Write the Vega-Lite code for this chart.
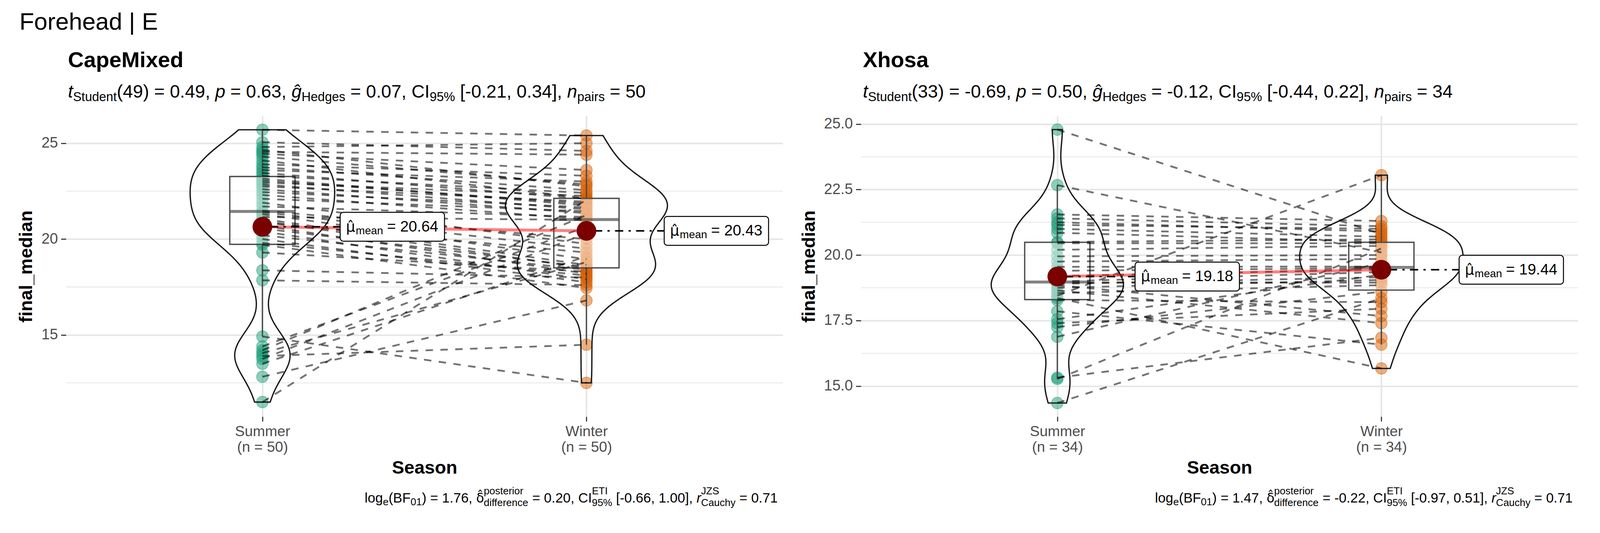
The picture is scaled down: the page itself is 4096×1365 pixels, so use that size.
{
"$schema":"https://vega.github.io/schema/vega-lite/v6.json",
"background":"white",
"padding":{"left":43,"top":26,"right":5,"bottom":5},
"title":{"text":"Forehead | E","anchor":"start","fontSize":61.5,"fontWeight":"normal","font":"Liberation Sans","color":"black","offset":39,"dx":6},
"config":{"font":"Liberation Sans","view":{"stroke":null},"text":{"color":"black"}},
"spacing":42,
"datasets":{
"cm":[
{"id":1,"Season":"Summer","final_median":11.5},{"id":1,"Season":"Winter","final_median":22.05},
{"id":2,"Season":"Summer","final_median":12.82},{"id":2,"Season":"Winter","final_median":16.8},
{"id":3,"Season":"Summer","final_median":13.5},{"id":3,"Season":"Winter","final_median":19.1},
{"id":4,"Season":"Summer","final_median":13.75},{"id":4,"Season":"Winter","final_median":20.3},
{"id":5,"Season":"Summer","final_median":13.9},{"id":5,"Season":"Winter","final_median":14.49},
{"id":6,"Season":"Summer","final_median":14.05},{"id":6,"Season":"Winter","final_median":18.8},
{"id":7,"Season":"Summer","final_median":14.2},{"id":7,"Season":"Winter","final_median":21.25},
{"id":8,"Season":"Summer","final_median":14.4},{"id":8,"Season":"Winter","final_median":20.65},
{"id":9,"Season":"Summer","final_median":14.92},{"id":9,"Season":"Winter","final_median":12.5},
{"id":10,"Season":"Summer","final_median":17.85},{"id":10,"Season":"Winter","final_median":17.6},
{"id":11,"Season":"Summer","final_median":18.37},{"id":11,"Season":"Winter","final_median":18.0},
{"id":12,"Season":"Summer","final_median":19.3},{"id":12,"Season":"Winter","final_median":18.3},
{"id":13,"Season":"Summer","final_median":19.7},{"id":13,"Season":"Winter","final_median":17.45},
{"id":14,"Season":"Summer","final_median":19.8},{"id":14,"Season":"Winter","final_median":18.1},
{"id":15,"Season":"Summer","final_median":20.0},{"id":15,"Season":"Winter","final_median":17.75},
{"id":16,"Season":"Summer","final_median":20.2},{"id":16,"Season":"Winter","final_median":18.4},
{"id":17,"Season":"Summer","final_median":20.4},{"id":17,"Season":"Winter","final_median":17.9},
{"id":18,"Season":"Summer","final_median":20.55},{"id":18,"Season":"Winter","final_median":18.55},
{"id":19,"Season":"Summer","final_median":20.7},{"id":19,"Season":"Winter","final_median":18.2},
{"id":20,"Season":"Summer","final_median":20.85},{"id":20,"Season":"Winter","final_median":19.3},
{"id":21,"Season":"Summer","final_median":20.95},{"id":21,"Season":"Winter","final_median":18.48},
{"id":22,"Season":"Summer","final_median":21.05},{"id":22,"Season":"Winter","final_median":18.65},
{"id":23,"Season":"Summer","final_median":21.15},{"id":23,"Season":"Winter","final_median":21.0},
{"id":24,"Season":"Summer","final_median":21.3},{"id":24,"Season":"Winter","final_median":18.95},
{"id":25,"Season":"Summer","final_median":21.4},{"id":25,"Season":"Winter","final_median":19.5},
{"id":26,"Season":"Summer","final_median":21.48},{"id":26,"Season":"Winter","final_median":20.0},
{"id":27,"Season":"Summer","final_median":21.7},{"id":27,"Season":"Winter","final_median":21.15},
{"id":28,"Season":"Summer","final_median":21.9},{"id":28,"Season":"Winter","final_median":19.75},
{"id":29,"Season":"Summer","final_median":22.1},{"id":29,"Season":"Winter","final_median":21.45},
{"id":30,"Season":"Summer","final_median":22.3},{"id":30,"Season":"Winter","final_median":21.04},
{"id":31,"Season":"Summer","final_median":22.45},{"id":31,"Season":"Winter","final_median":21.65},
{"id":32,"Season":"Summer","final_median":22.6},{"id":32,"Season":"Winter","final_median":21.35},
{"id":33,"Season":"Summer","final_median":22.75},{"id":33,"Season":"Winter","final_median":21.95},
{"id":34,"Season":"Summer","final_median":22.85},{"id":34,"Season":"Winter","final_median":21.55},
{"id":35,"Season":"Summer","final_median":22.95},{"id":35,"Season":"Winter","final_median":22.25},
{"id":36,"Season":"Summer","final_median":23.05},{"id":36,"Season":"Winter","final_median":21.85},
{"id":37,"Season":"Summer","final_median":23.15},{"id":37,"Season":"Winter","final_median":21.75},
{"id":38,"Season":"Summer","final_median":23.3},{"id":38,"Season":"Winter","final_median":22.4},
{"id":39,"Season":"Summer","final_median":23.45},{"id":39,"Season":"Winter","final_median":22.1},
{"id":40,"Season":"Summer","final_median":23.6},{"id":40,"Season":"Winter","final_median":23.0},
{"id":41,"Season":"Summer","final_median":23.75},{"id":41,"Season":"Winter","final_median":22.55},
{"id":42,"Season":"Summer","final_median":23.9},{"id":42,"Season":"Winter","final_median":23.3},
{"id":43,"Season":"Summer","final_median":24.1},{"id":43,"Season":"Winter","final_median":22.13},
{"id":44,"Season":"Summer","final_median":24.3},{"id":44,"Season":"Winter","final_median":22.85},
{"id":45,"Season":"Summer","final_median":24.45},{"id":45,"Season":"Winter","final_median":23.6},
{"id":46,"Season":"Summer","final_median":24.55},{"id":46,"Season":"Winter","final_median":24.4},
{"id":47,"Season":"Summer","final_median":24.65},{"id":47,"Season":"Winter","final_median":22.75},
{"id":48,"Season":"Summer","final_median":24.8},{"id":48,"Season":"Winter","final_median":25.0},
{"id":49,"Season":"Summer","final_median":25.05},{"id":49,"Season":"Winter","final_median":24.6},
{"id":50,"Season":"Summer","final_median":25.7},{"id":50,"Season":"Winter","final_median":25.4}
],
"xh":[
{"id":1,"Season":"Summer","final_median":14.35},{"id":1,"Season":"Winter","final_median":18.35},
{"id":2,"Season":"Summer","final_median":15.27},{"id":2,"Season":"Winter","final_median":20.25},
{"id":3,"Season":"Summer","final_median":15.32},{"id":3,"Season":"Winter","final_median":16.84},
{"id":4,"Season":"Summer","final_median":16.88},{"id":4,"Season":"Winter","final_median":19.7},
{"id":5,"Season":"Summer","final_median":17.25},{"id":5,"Season":"Winter","final_median":18.6},
{"id":6,"Season":"Summer","final_median":17.4},{"id":6,"Season":"Winter","final_median":17.95},
{"id":7,"Season":"Summer","final_median":17.55},{"id":7,"Season":"Winter","final_median":19.25},
{"id":8,"Season":"Summer","final_median":17.85},{"id":8,"Season":"Winter","final_median":16.58},
{"id":9,"Season":"Summer","final_median":18.28},{"id":9,"Season":"Winter","final_median":18.2},
{"id":10,"Season":"Summer","final_median":18.36},{"id":10,"Season":"Winter","final_median":15.67},
{"id":11,"Season":"Summer","final_median":18.45},{"id":11,"Season":"Winter","final_median":23.05},
{"id":12,"Season":"Summer","final_median":18.55},{"id":12,"Season":"Winter","final_median":18.85},
{"id":13,"Season":"Summer","final_median":18.65},{"id":13,"Season":"Winter","final_median":17.4},
{"id":14,"Season":"Summer","final_median":18.75},{"id":14,"Season":"Winter","final_median":19.05},
{"id":15,"Season":"Summer","final_median":18.85},{"id":15,"Season":"Winter","final_median":17.67},
{"id":16,"Season":"Summer","final_median":18.9},{"id":16,"Season":"Winter","final_median":19.15},
{"id":17,"Season":"Summer","final_median":18.95},{"id":17,"Season":"Winter","final_median":18.95},
{"id":18,"Season":"Summer","final_median":18.99},{"id":18,"Season":"Winter","final_median":19.35},
{"id":19,"Season":"Summer","final_median":19.2},{"id":19,"Season":"Winter","final_median":19.45},
{"id":20,"Season":"Summer","final_median":19.4},{"id":20,"Season":"Winter","final_median":19.5},
{"id":21,"Season":"Summer","final_median":19.55},{"id":21,"Season":"Winter","final_median":19.56},
{"id":22,"Season":"Summer","final_median":19.75},{"id":22,"Season":"Winter","final_median":19.85},
{"id":23,"Season":"Summer","final_median":19.95},{"id":23,"Season":"Winter","final_median":20.0},
{"id":24,"Season":"Summer","final_median":20.2},{"id":24,"Season":"Winter","final_median":20.35},
{"id":25,"Season":"Summer","final_median":20.45},{"id":25,"Season":"Winter","final_median":20.45},
{"id":26,"Season":"Summer","final_median":20.5},{"id":26,"Season":"Winter","final_median":20.6},
{"id":27,"Season":"Summer","final_median":20.85},{"id":27,"Season":"Winter","final_median":20.5},
{"id":28,"Season":"Summer","final_median":21.0},{"id":28,"Season":"Winter","final_median":20.7},
{"id":29,"Season":"Summer","final_median":21.15},{"id":29,"Season":"Winter","final_median":21.0},
{"id":30,"Season":"Summer","final_median":21.25},{"id":30,"Season":"Winter","final_median":20.9},
{"id":31,"Season":"Summer","final_median":21.4},{"id":31,"Season":"Winter","final_median":21.1},
{"id":32,"Season":"Summer","final_median":21.55},{"id":32,"Season":"Winter","final_median":21.3},
{"id":33,"Season":"Summer","final_median":22.67},{"id":33,"Season":"Winter","final_median":20.1},
{"id":34,"Season":"Summer","final_median":24.79},{"id":34,"Season":"Winter","final_median":20.8}
],
"cm_means":[{"Season":"Summer","mean":20.64},{"Season":"Winter","mean":20.43}],
"xh_means":[{"Season":"Summer","mean":19.18},{"Season":"Winter","mean":19.44}],
"cm_minor":[{"v":12.5},{"v":17.5},{"v":22.5}],
"xh_minor":[{"v":16.25},{"v":18.75},{"v":21.25},{"v":23.75}]
},
"hconcat":[
{
"width":1835,"height":770,
"data":{"name":"cm"},
"transform":[{"calculate":"indexof(['Summer','Winter'], datum.Season) + 1","as":"pos"}],
"layer":[
{"data":{"name":"cm_minor"},"mark":{"type":"rule","color":"#E6E6E6","strokeWidth":2},"encoding":{"y":{"field":"v","type":"quantitative"}}},
{"mark":{"type":"circle","size":880,"fillOpacity":0.5,"strokeOpacity":0.5,"strokeWidth":2},
"encoding":{
"x":{"field":"pos","type":"quantitative","scale":{"domain":[0.4,2.6],"nice":false,"zero":false},
"axis":{"values":[1,2],"labelExpr":"datum.value == 1 ? ['Summer','(n = 50)'] : ['Winter','(n = 50)']","title":"Season","grid":true,"gridColor":"#E6E6E6","gridWidth":4,"domain":false,"tickSize":12,"tickWidth":2.8,"tickColor":"#333333","labelFontSize":37.5,"labelColor":"#4D4D4D","labelPadding":7,"labelLineHeight":40,"titleFontSize":47,"titleFontWeight":"bold","titleColor":"black","titlePadding":12,"labelFlush":false,"labelOverlap":false}},
"y":{"field":"final_median","type":"quantitative","scale":{"domain":[10.74,26.42],"nice":false,"zero":false},
"axis":{"values":[15,20,25],"title":"final_median","grid":true,"gridColor":"#E6E6E6","gridWidth":4,"domain":false,"tickSize":13,"tickWidth":2.8,"tickColor":"#333333","labelFontSize":38,"labelColor":"#4D4D4D","labelPadding":8,"titleFontSize":47,"titleFontWeight":"bold","titleColor":"black","titlePadding":14,"labelFlush":false}},
"color":{"field":"Season","type":"nominal","scale":{"domain":["Summer","Winter"],"range":["#1B9E77","#D95F02"]},"legend":null},
"stroke":{"field":"Season","type":"nominal","scale":{"domain":["Summer","Winter"],"range":["#1B9E77","#D95F02"]},"legend":null}}},
{"mark":{"type":"boxplot","extent":1.5,"size":167,"orient":"vertical","outliers":false,"ticks":false,"box":{"fill":"white","fillOpacity":0.5,"stroke":"#4D4D4D","strokeWidth":3.4},"median":{"color":"#4D4D4D","thickness":7.4},"rule":{"color":"#4D4D4D","strokeWidth":3.4}},
"encoding":{"x":{"field":"pos","type":"quantitative"},"y":{"field":"final_median","type":"quantitative"}}},
{"transform":[{"filter":"datum.Season == 'Summer'"},{"density":"final_median","bandwidth":1.086,"steps":200},{"joinaggregate":[{"op":"max","field":"density","as":"maxd"}]},{"calculate":"1 - datum.density / datum.maxd * 0.223","as":"lo"},{"calculate":"1 + datum.density / datum.maxd * 0.223","as":"hi"}],
"mark":{"type":"area","orient":"horizontal","fill":"transparent","stroke":"#1A1A1A","strokeWidth":3.4},
"encoding":{"y":{"field":"value","type":"quantitative"},"x":{"field":"lo","type":"quantitative"},"x2":{"field":"hi"}}},
{"transform":[{"filter":"datum.Season == 'Winter'"},{"density":"final_median","bandwidth":1.074,"steps":200},{"joinaggregate":[{"op":"max","field":"density","as":"maxd"}]},{"calculate":"2 - datum.density / datum.maxd * 0.25","as":"lo"},{"calculate":"2 + datum.density / datum.maxd * 0.25","as":"hi"}],
"mark":{"type":"area","orient":"horizontal","fill":"transparent","stroke":"#1A1A1A","strokeWidth":3.4},
"encoding":{"y":{"field":"value","type":"quantitative"},"x":{"field":"lo","type":"quantitative"},"x2":{"field":"hi"}}},
{"mark":{"type":"line","color":"black","opacity":0.55,"strokeWidth":4.6,"strokeDash":[19,19]},
"encoding":{"x":{"field":"pos","type":"quantitative"},"y":{"field":"final_median","type":"quantitative"},"detail":{"field":"id","type":"nominal"},"order":{"field":"pos","type":"quantitative"}}},
{"data":{"name":"cm_means"},
"transform":[{"calculate":"indexof(['Summer','Winter'], datum.Season) + 1","as":"pos"},{"calculate":"datum.pos + 0.24","as":"lx"},{"calculate":"datum.pos + 0.562","as":"rx"},{"calculate":"datum.mean - 0.753","as":"ylo"},{"calculate":"datum.mean + 0.753","as":"yhi"},{"calculate":"'= ' + format(datum.mean, '.2f')","as":"lab"}],
"layer":[
{"mark":{"type":"line","color":"red","opacity":0.5,"strokeWidth":7.5},"encoding":{"x":{"field":"pos","type":"quantitative"},"y":{"field":"mean","type":"quantitative"}}},
{"mark":{"type":"rule","color":"black","strokeWidth":4,"strokeDash":[5.7,13.6,21,13.6]},"encoding":{"x":{"field":"pos","type":"quantitative"},"x2":{"field":"lx"},"y":{"field":"mean","type":"quantitative"}}},
{"mark":{"type":"circle","size":2550,"color":"#7B0000","opacity":1},"encoding":{"x":{"field":"pos","type":"quantitative"},"y":{"field":"mean","type":"quantitative"}}},
{"mark":{"type":"rect","fill":"white","stroke":"black","strokeWidth":2.5,"cornerRadius":8},"encoding":{"x":{"field":"lx","type":"quantitative"},"x2":{"field":"rx"},"y":{"field":"ylo","type":"quantitative"},"y2":{"field":"yhi"}}},
{"mark":{"type":"text","text":"μ̂","font":"DejaVu Sans","align":"left","baseline":"alphabetic","fontSize":37,"dx":15,"dy":12},"encoding":{"x":{"field":"lx","type":"quantitative"},"y":{"field":"mean","type":"quantitative"}}},
{"mark":{"type":"text","text":"mean","align":"left","baseline":"alphabetic","fontSize":28,"dx":40,"dy":19},"encoding":{"x":{"field":"lx","type":"quantitative"},"y":{"field":"mean","type":"quantitative"}}},
{"mark":{"type":"text","align":"left","baseline":"alphabetic","fontSize":39,"dx":120,"dy":12},"encoding":{"x":{"field":"lx","type":"quantitative"},"y":{"field":"mean","type":"quantitative"},"text":{"field":"lab"}}}
]},
{"data":{"values":[{}]},"mark":{"type":"text","text":"CapeMixed","align":"left","baseline":"alphabetic","fontSize":56,"fontWeight":"bold","dx":0,"dy":-125},"encoding":{"x":{"datum":0.4},"y":{"datum":26.42}}},
{"data":{"values":[{}]},"layer":[
{"mark":{"type":"text","text":"t","align":"left","baseline":"alphabetic","fontSize":46.5,"fontStyle":"italic","dx":0,"dy":-47}},
{"mark":{"type":"text","text":"Student","align":"left","baseline":"alphabetic","fontSize":32.5,"dx":12.93,"dy":-38}},
{"mark":{"type":"text","text":"(49) = 0.49,","align":"left","baseline":"alphabetic","fontSize":46.5,"dx":124.96,"dy":-47}},
{"mark":{"type":"text","text":"p","align":"left","baseline":"alphabetic","fontSize":46.5,"fontStyle":"italic","dx":376.99,"dy":-47}},
{"mark":{"type":"text","text":"= 0.63,","align":"left","baseline":"alphabetic","fontSize":46.5,"dx":415.77,"dy":-47}},
{"mark":{"type":"text","text":"ĝ","align":"left","baseline":"alphabetic","fontSize":46.5,"fontStyle":"italic","dx":572.19,"dy":-47}},
{"mark":{"type":"text","text":"Hedges","align":"left","baseline":"alphabetic","fontSize":32.5,"dx":598.04,"dy":-38}},
{"mark":{"type":"text","text":"= 0.07, CI","align":"left","baseline":"alphabetic","fontSize":46.5,"dx":722.97,"dy":-47}},
{"mark":{"type":"text","text":"95%","align":"left","baseline":"alphabetic","fontSize":32.5,"dx":925.89,"dy":-38}},
{"mark":{"type":"text","text":"[-0.21, 0.34],","align":"left","baseline":"alphabetic","fontSize":46.5,"dx":1003.85,"dy":-47}},
{"mark":{"type":"text","text":"n","align":"left","baseline":"alphabetic","fontSize":46.5,"fontStyle":"italic","dx":1277.87,"dy":-47}},
{"mark":{"type":"text","text":"pairs","align":"left","baseline":"alphabetic","fontSize":32.5,"dx":1303.72,"dy":-38}},
{"mark":{"type":"text","text":"= 50","align":"left","baseline":"alphabetic","fontSize":46.5,"dx":1387.08,"dy":-47}}
],"encoding":{"x":{"datum":0.4},"y":{"datum":26.42}}},
{"data":{"values":[{}]},"layer":[
{"mark":{"type":"text","text":"log","align":"left","baseline":"alphabetic","fontSize":35,"dx":-1065.5,"dy":220}},
{"mark":{"type":"text","text":"e","align":"left","baseline":"alphabetic","fontSize":26,"dx":-1018.81,"dy":227}},
{"mark":{"type":"text","text":"(BF","align":"left","baseline":"alphabetic","fontSize":35,"dx":-1004.35,"dy":220}},
{"mark":{"type":"text","text":"01","align":"left","baseline":"alphabetic","fontSize":26,"dx":-947.96,"dy":227}},
{"mark":{"type":"text","text":") = 1.76,","align":"left","baseline":"alphabetic","fontSize":35,"dx":-919.05,"dy":220}},
{"mark":{"type":"text","text":"δ̂","font":"DejaVu Sans","align":"left","baseline":"alphabetic","fontSize":33,"dx":-779.92,"dy":220}},
{"mark":{"type":"text","text":"posterior","align":"left","baseline":"alphabetic","fontSize":26,"dx":-760.46,"dy":199}},
{"mark":{"type":"text","text":"difference","align":"left","baseline":"alphabetic","fontSize":26,"dx":-760.46,"dy":229}},
{"mark":{"type":"text","text":"= 0.20, CI","align":"left","baseline":"alphabetic","fontSize":35,"dx":-636.56,"dy":220}},
{"mark":{"type":"text","text":"ETI","align":"left","baseline":"alphabetic","fontSize":26,"dx":-483.82,"dy":199}},
{"mark":{"type":"text","text":"95%","align":"left","baseline":"alphabetic","fontSize":26,"dx":-483.82,"dy":229}},
{"mark":{"type":"text","text":"[-0.66, 1.00],","align":"left","baseline":"alphabetic","fontSize":35,"dx":-422.06,"dy":220}},
{"mark":{"type":"text","text":"r","align":"left","baseline":"alphabetic","fontSize":35,"fontStyle":"italic","dx":-215.8,"dy":220}},
{"mark":{"type":"text","text":"JZS","align":"left","baseline":"alphabetic","fontSize":26,"dx":-204.14,"dy":199}},
{"mark":{"type":"text","text":"Cauchy","align":"left","baseline":"alphabetic","fontSize":26,"dx":-204.14,"dy":229}},
{"mark":{"type":"text","text":"= 0.71","align":"left","baseline":"alphabetic","fontSize":35,"dx":-106.27,"dy":220}}
],"encoding":{"x":{"datum":2.6},"y":{"datum":10.74}}}
]
},
{
"width":1835,"height":770,
"data":{"name":"xh"},
"transform":[{"calculate":"indexof(['Summer','Winter'], datum.Season) + 1","as":"pos"}],
"layer":[
{"data":{"name":"xh_minor"},"mark":{"type":"rule","color":"#E6E6E6","strokeWidth":2},"encoding":{"y":{"field":"v","type":"quantitative"}}},
{"mark":{"type":"circle","size":880,"fillOpacity":0.5,"strokeOpacity":0.5,"strokeWidth":2},
"encoding":{
"x":{"field":"pos","type":"quantitative","scale":{"domain":[0.4,2.6],"nice":false,"zero":false},
"axis":{"values":[1,2],"labelExpr":"datum.value == 1 ? ['Summer','(n = 34)'] : ['Winter','(n = 34)']","title":"Season","grid":true,"gridColor":"#E6E6E6","gridWidth":4,"domain":false,"tickSize":12,"tickWidth":2.8,"tickColor":"#333333","labelFontSize":37.5,"labelColor":"#4D4D4D","labelPadding":7,"labelLineHeight":40,"titleFontSize":47,"titleFontWeight":"bold","titleColor":"black","titlePadding":12,"labelFlush":false,"labelOverlap":false}},
"y":{"field":"final_median","type":"quantitative","scale":{"domain":[13.83,25.31],"nice":false,"zero":false},
"axis":{"values":[15,17.5,20,22.5,25],"format":".1f","title":"final_median","grid":true,"gridColor":"#E6E6E6","gridWidth":4,"domain":false,"tickSize":13,"tickWidth":2.8,"tickColor":"#333333","labelFontSize":38,"labelColor":"#4D4D4D","labelPadding":8,"titleFontSize":47,"titleFontWeight":"bold","titleColor":"black","titlePadding":14,"labelFlush":false}},
"color":{"field":"Season","type":"nominal","scale":{"domain":["Summer","Winter"],"range":["#1B9E77","#D95F02"]},"legend":null},
"stroke":{"field":"Season","type":"nominal","scale":{"domain":["Summer","Winter"],"range":["#1B9E77","#D95F02"]},"legend":null}}},
{"mark":{"type":"boxplot","extent":1.5,"size":167,"orient":"vertical","outliers":false,"ticks":false,"box":{"fill":"white","fillOpacity":0.5,"stroke":"#4D4D4D","strokeWidth":3.4},"median":{"color":"#4D4D4D","thickness":7.4},"rule":{"color":"#4D4D4D","strokeWidth":3.4}},
"encoding":{"x":{"field":"pos","type":"quantitative"},"y":{"field":"final_median","type":"quantitative"}}},
{"transform":[{"filter":"datum.Season == 'Summer'"},{"density":"final_median","bandwidth":0.727,"steps":200},{"joinaggregate":[{"op":"max","field":"density","as":"maxd"}]},{"calculate":"1 - datum.density / datum.maxd * 0.204","as":"lo"},{"calculate":"1 + datum.density / datum.maxd * 0.204","as":"hi"}],
"mark":{"type":"area","orient":"horizontal","fill":"transparent","stroke":"#1A1A1A","strokeWidth":3.4},
"encoding":{"y":{"field":"value","type":"quantitative"},"x":{"field":"lo","type":"quantitative"},"x2":{"field":"hi"}}},
{"transform":[{"filter":"datum.Season == 'Winter'"},{"density":"final_median","bandwidth":0.607,"steps":200},{"joinaggregate":[{"op":"max","field":"density","as":"maxd"}]},{"calculate":"2 - datum.density / datum.maxd * 0.252","as":"lo"},{"calculate":"2 + datum.density / datum.maxd * 0.252","as":"hi"}],
"mark":{"type":"area","orient":"horizontal","fill":"transparent","stroke":"#1A1A1A","strokeWidth":3.4},
"encoding":{"y":{"field":"value","type":"quantitative"},"x":{"field":"lo","type":"quantitative"},"x2":{"field":"hi"}}},
{"mark":{"type":"line","color":"black","opacity":0.55,"strokeWidth":4.6,"strokeDash":[19,19]},
"encoding":{"x":{"field":"pos","type":"quantitative"},"y":{"field":"final_median","type":"quantitative"},"detail":{"field":"id","type":"nominal"},"order":{"field":"pos","type":"quantitative"}}},
{"data":{"name":"xh_means"},
"transform":[{"calculate":"indexof(['Summer','Winter'], datum.Season) + 1","as":"pos"},{"calculate":"datum.pos + 0.24","as":"lx"},{"calculate":"datum.pos + 0.562","as":"rx"},{"calculate":"datum.mean - 0.552","as":"ylo"},{"calculate":"datum.mean + 0.552","as":"yhi"},{"calculate":"'= ' + format(datum.mean, '.2f')","as":"lab"}],
"layer":[
{"mark":{"type":"line","color":"red","opacity":0.5,"strokeWidth":7.5},"encoding":{"x":{"field":"pos","type":"quantitative"},"y":{"field":"mean","type":"quantitative"}}},
{"mark":{"type":"rule","color":"black","strokeWidth":4,"strokeDash":[5.7,13.6,21,13.6]},"encoding":{"x":{"field":"pos","type":"quantitative"},"x2":{"field":"lx"},"y":{"field":"mean","type":"quantitative"}}},
{"mark":{"type":"circle","size":2550,"color":"#7B0000","opacity":1},"encoding":{"x":{"field":"pos","type":"quantitative"},"y":{"field":"mean","type":"quantitative"}}},
{"mark":{"type":"rect","fill":"white","stroke":"black","strokeWidth":2.5,"cornerRadius":8},"encoding":{"x":{"field":"lx","type":"quantitative"},"x2":{"field":"rx"},"y":{"field":"ylo","type":"quantitative"},"y2":{"field":"yhi"}}},
{"mark":{"type":"text","text":"μ̂","font":"DejaVu Sans","align":"left","baseline":"alphabetic","fontSize":37,"dx":15,"dy":12},"encoding":{"x":{"field":"lx","type":"quantitative"},"y":{"field":"mean","type":"quantitative"}}},
{"mark":{"type":"text","text":"mean","align":"left","baseline":"alphabetic","fontSize":28,"dx":40,"dy":19},"encoding":{"x":{"field":"lx","type":"quantitative"},"y":{"field":"mean","type":"quantitative"}}},
{"mark":{"type":"text","align":"left","baseline":"alphabetic","fontSize":39,"dx":120,"dy":12},"encoding":{"x":{"field":"lx","type":"quantitative"},"y":{"field":"mean","type":"quantitative"},"text":{"field":"lab"}}}
]},
{"data":{"values":[{}]},"mark":{"type":"text","text":"Xhosa","align":"left","baseline":"alphabetic","fontSize":56,"fontWeight":"bold","dx":0,"dy":-125},"encoding":{"x":{"datum":0.4},"y":{"datum":25.31}}},
{"data":{"values":[{}]},"layer":[
{"mark":{"type":"text","text":"t","align":"left","baseline":"alphabetic","fontSize":46.5,"fontStyle":"italic","dx":0,"dy":-47}},
{"mark":{"type":"text","text":"Student","align":"left","baseline":"alphabetic","fontSize":32.5,"dx":12.93,"dy":-38}},
{"mark":{"type":"text","text":"(33) = -0.69,","align":"left","baseline":"alphabetic","fontSize":46.5,"dx":124.96,"dy":-47}},
{"mark":{"type":"text","text":"p","align":"left","baseline":"alphabetic","fontSize":46.5,"fontStyle":"italic","dx":392.47,"dy":-47}},
{"mark":{"type":"text","text":"= 0.50,","align":"left","baseline":"alphabetic","fontSize":46.5,"dx":431.25,"dy":-47}},
{"mark":{"type":"text","text":"ĝ","align":"left","baseline":"alphabetic","fontSize":46.5,"fontStyle":"italic","dx":587.67,"dy":-47}},
{"mark":{"type":"text","text":"Hedges","align":"left","baseline":"alphabetic","fontSize":32.5,"dx":613.52,"dy":-38}},
{"mark":{"type":"text","text":"= -0.12, CI","align":"left","baseline":"alphabetic","fontSize":46.5,"dx":738.45,"dy":-47}},
{"mark":{"type":"text","text":"95%","align":"left","baseline":"alphabetic","fontSize":32.5,"dx":956.86,"dy":-38}},
{"mark":{"type":"text","text":"[-0.44, 0.22],","align":"left","baseline":"alphabetic","fontSize":46.5,"dx":1034.82,"dy":-47}},
{"mark":{"type":"text","text":"n","align":"left","baseline":"alphabetic","fontSize":46.5,"fontStyle":"italic","dx":1308.84,"dy":-47}},
{"mark":{"type":"text","text":"pairs","align":"left","baseline":"alphabetic","fontSize":32.5,"dx":1334.69,"dy":-38}},
{"mark":{"type":"text","text":"= 34","align":"left","baseline":"alphabetic","fontSize":46.5,"dx":1418.05,"dy":-47}}
],"encoding":{"x":{"datum":0.4},"y":{"datum":25.31}}},
{"data":{"values":[{}]},"layer":[
{"mark":{"type":"text","text":"log","align":"left","baseline":"alphabetic","fontSize":35,"dx":-1077.17,"dy":220}},
{"mark":{"type":"text","text":"e","align":"left","baseline":"alphabetic","fontSize":26,"dx":-1030.48,"dy":227}},
{"mark":{"type":"text","text":"(BF","align":"left","baseline":"alphabetic","fontSize":35,"dx":-1016.02,"dy":220}},
{"mark":{"type":"text","text":"01","align":"left","baseline":"alphabetic","fontSize":26,"dx":-959.63,"dy":227}},
{"mark":{"type":"text","text":") = 1.47,","align":"left","baseline":"alphabetic","fontSize":35,"dx":-930.72,"dy":220}},
{"mark":{"type":"text","text":"δ̂","font":"DejaVu Sans","align":"left","baseline":"alphabetic","fontSize":33,"dx":-791.59,"dy":220}},
{"mark":{"type":"text","text":"posterior","align":"left","baseline":"alphabetic","fontSize":26,"dx":-772.13,"dy":199}},
{"mark":{"type":"text","text":"difference","align":"left","baseline":"alphabetic","fontSize":26,"dx":-772.13,"dy":229}},
{"mark":{"type":"text","text":"= -0.22, CI","align":"left","baseline":"alphabetic","fontSize":35,"dx":-648.23,"dy":220}},
{"mark":{"type":"text","text":"ETI","align":"left","baseline":"alphabetic","fontSize":26,"dx":-483.83,"dy":199}},
{"mark":{"type":"text","text":"95%","align":"left","baseline":"alphabetic","fontSize":26,"dx":-483.83,"dy":229}},
{"mark":{"type":"text","text":"[-0.97, 0.51],","align":"left","baseline":"alphabetic","fontSize":35,"dx":-422.07,"dy":220}},
{"mark":{"type":"text","text":"r","align":"left","baseline":"alphabetic","fontSize":35,"fontStyle":"italic","dx":-215.81,"dy":220}},
{"mark":{"type":"text","text":"JZS","align":"left","baseline":"alphabetic","fontSize":26,"dx":-204.15,"dy":199}},
{"mark":{"type":"text","text":"Cauchy","align":"left","baseline":"alphabetic","fontSize":26,"dx":-204.15,"dy":229}},
{"mark":{"type":"text","text":"= 0.71","align":"left","baseline":"alphabetic","fontSize":35,"dx":-106.28,"dy":220}}
],"encoding":{"x":{"datum":2.6},"y":{"datum":13.83}}}
]
}
]
}
